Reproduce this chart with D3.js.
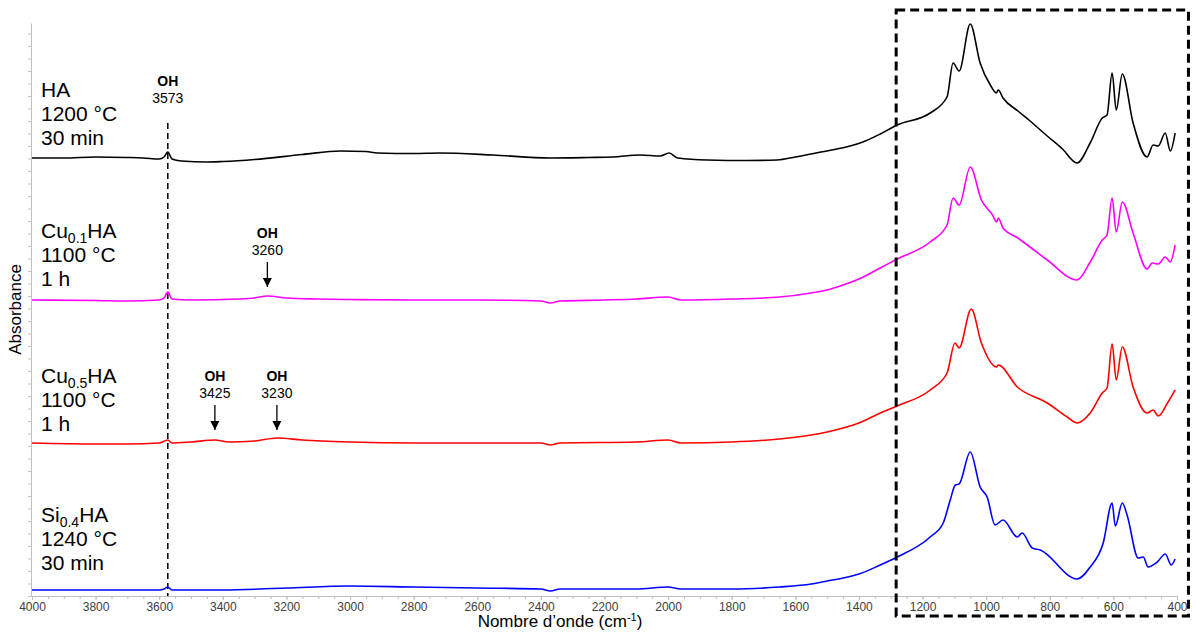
<!DOCTYPE html>
<html>
<head>
<meta charset="utf-8">
<script src="https://cdn.jsdelivr.net/npm/d3@7"></script>
<style>
  body { margin: 0; background: #fff; }
  text { font-family: "Liberation Sans", Arial, sans-serif; }
</style>
</head>
<body>
<div id="chart"></div>
<script>
// wavenumber (cm-1) and absorbance above each spectrum's own baseline (a.u.)
const haData = [
  [4000, 0.00], [3900, 0.00], [3800, 0.01], [3700, 0.005], [3650, 0.00], [3600, -0.01],
  [3585, 0.01], [3573, 0.06], [3560, -0.01], [3530, -0.03], [3450, -0.04], [3400, -0.035],
  [3300, -0.015], [3150, 0.035], [3030, 0.07], [2950, 0.065], [2915, 0.05], [2800, 0.045],
  [2720, 0.05], [2550, 0.03], [2371, 0.00], [2250, 0.005], [2173, 0.01], [2088, 0.03],
  [2025, 0.02], [1997, 0.05], [1969, 0.00], [1877, -0.02], [1750, -0.025], [1657, -0.02],
  [1600, 0.01], [1520, 0.06], [1440, 0.11], [1380, 0.17], [1333, 0.24], [1280, 0.33],
  [1176, 0.45], [1123, 0.61], [1104, 0.95], [1085, 0.87], [1050, 1.34], [1019, 0.95],
  [987, 0.73], [968, 0.65], [962, 0.68], [947, 0.60], [900, 0.47], [862, 0.37],
  [808, 0.22], [760, 0.09], [714, -0.05], [673, 0.15], [635, 0.40], [620, 0.43],
  [604, 0.85], [591, 0.48], [572, 0.84], [538, 0.35], [494, 0.01], [475, 0.13],
  [459, 0.12], [437, 0.25], [421, 0.07], [406, 0.25]
];
const cu01Data = [
  [4000, 0.00], [3800, -0.005], [3700, -0.01], [3600, 0.00], [3585, 0.02], [3573, 0.08],
  [3560, 0.01], [3500, 0.00], [3350, 0.01], [3300, 0.02], [3260, 0.04], [3200, 0.02],
  [3100, 0.01], [3000, 0.005], [2800, 0.00], [2600, 0.00], [2400, -0.01], [2370, -0.03],
  [2340, -0.01], [2200, 0.00], [2100, 0.01], [2000, 0.03], [1960, 0.00], [1800, 0.01],
  [1650, 0.03], [1550, 0.07], [1500, 0.10], [1450, 0.15], [1400, 0.21], [1333, 0.32],
  [1280, 0.41], [1176, 0.58], [1123, 0.75], [1104, 1.02], [1085, 0.95], [1050, 1.33],
  [1015, 1.00], [980, 0.85], [967, 0.78], [962, 0.82], [947, 0.72], [900, 0.62],
  [862, 0.53], [808, 0.40], [714, 0.20], [673, 0.38], [635, 0.60], [620, 0.65],
  [604, 1.02], [591, 0.68], [572, 0.98], [538, 0.67], [494, 0.31], [478, 0.37],
  [459, 0.36], [437, 0.43], [421, 0.38], [406, 0.55]
];
const cu05Data = [
  [4000, 0.00], [3800, -0.01], [3700, -0.01], [3600, 0.00], [3573, 0.03], [3560, 0.00],
  [3500, 0.01], [3425, 0.03], [3380, 0.01], [3300, 0.02], [3230, 0.05], [3150, 0.03],
  [3000, 0.01], [2800, 0.00], [2600, 0.00], [2400, 0.00], [2370, -0.02], [2340, 0.00],
  [2100, 0.01], [2000, 0.03], [1960, 0.00], [1800, 0.01], [1650, 0.04], [1550, 0.08],
  [1500, 0.11], [1450, 0.15], [1400, 0.20], [1333, 0.30], [1280, 0.37], [1176, 0.53],
  [1123, 0.70], [1098, 1.00], [1085, 0.95], [1047, 1.34], [1015, 1.00], [967, 0.76],
  [962, 0.78], [902, 0.56], [808, 0.40], [745, 0.26], [714, 0.20], [673, 0.30],
  [635, 0.50], [620, 0.55], [604, 0.99], [591, 0.63], [572, 0.96], [538, 0.56],
  [494, 0.30], [475, 0.33], [459, 0.27], [430, 0.40], [406, 0.53]
];
const si04Data = [
  [4000, 0.00], [3800, 0.00], [3600, 0.00], [3585, 0.01], [3573, 0.03], [3560, 0.00],
  [3400, 0.00], [3200, 0.02], [3000, 0.04], [2800, 0.03], [2600, 0.02], [2400, 0.01],
  [2370, -0.01], [2340, 0.01], [2100, 0.01], [2000, 0.03], [1960, 0.01], [1800, 0.01],
  [1650, 0.03], [1550, 0.06], [1500, 0.09], [1450, 0.12], [1400, 0.16], [1333, 0.25],
  [1280, 0.33], [1176, 0.53], [1135, 0.67], [1113, 0.90], [1097, 1.05], [1085, 1.06],
  [1050, 1.38], [1019, 1.03], [997, 0.93], [972, 0.65], [947, 0.70], [902, 0.53],
  [887, 0.57], [855, 0.42], [830, 0.40], [714, 0.11], [673, 0.23], [632, 0.47],
  [604, 0.87], [594, 0.64], [572, 0.87], [557, 0.75], [522, 0.32], [506, 0.33],
  [491, 0.23], [462, 0.28], [437, 0.36], [418, 0.25], [406, 0.31]
];

const seriesColors = ["#000000", "#ff00ff", "#ff0000", "#0000ff"];
const seriesOffsets = [4.38, 2.96, 1.53, 0.06];
const seriesData = [haData, cu01Data, cu05Data, si04Data];

// sample labels: [main, subscript, rest], then two lines
const sampleLabels = [
  [["HA", "", ""], "1200 °C", "30 min"],
  [["Cu", "0.1", "HA"], "1100 °C", "1 h"],
  [["Cu", "0.5", "HA"], "1100 °C", "1 h"],
  [["Si", "0.4", "HA"], "1240 °C", "30 min"]
];

// OH bands: wavenumber, series index, arrow or not
const ohBands = [
  { wn: 3573, series: 0, arrow: false },
  { wn: 3260, series: 1, arrow: true },
  { wn: 3425, series: 2, arrow: true },
  { wn: 3230, series: 2, arrow: true }
];

const xTicks = d3.range(4000, 399, -200);

const width = 1195;
const height = 634;
const margin = { top: 23, right: 18, bottom: 38, left: 32 };

const svg = d3.select("#chart")
  .append("svg")
  .attr("width", width)
  .attr("height", height);

const x = d3.scaleLinear().domain([4000, 400]).range([margin.left, width - margin.right]);
const y = d3.scaleLinear().domain([0, 5.73]).range([height - margin.bottom, margin.top]);

// x axis
const xAxis = svg.append("g")
  .attr("transform", `translate(0, ${y(0)})`)
  .call(d3.axisBottom(x).tickValues(xTicks).tickSize(4).tickPadding(2).tickFormat(d3.format("d")));
xAxis.select(".domain").attr("stroke", "#bfbfbf");
xAxis.selectAll(".tick line").attr("stroke", "#bfbfbf");
xAxis.selectAll("text").attr("font-size", 12).attr("fill", "#404040")
  .style("font-family", "'Liberation Sans', Arial, sans-serif");

// minor x ticks
svg.append("g")
  .attr("transform", `translate(0, ${y(0)})`)
  .call(d3.axisBottom(x).tickValues(d3.range(4000, 399, -50)).tickSize(3).tickFormat(""))
  .call(g => g.select(".domain").remove())
  .selectAll("line").attr("stroke", "#bfbfbf");

// y axis (no labels)
const yAxis = svg.append("g")
  .attr("transform", `translate(${margin.left - 1}, 0)`)
  .call(d3.axisLeft(y).tickValues(d3.range(0, 5.74, 0.125)).tickSize(3).tickFormat("").tickSizeOuter(0));
yAxis.select(".domain").attr("stroke", "#bfbfbf");
yAxis.selectAll(".tick line").attr("stroke", "#bfbfbf");

// axis titles
const xTitle = svg.append("text")
  .attr("x", 560)
  .attr("y", 627)
  .attr("text-anchor", "middle")
  .attr("font-size", 17)
  .attr("fill", "#000");
xTitle.append("tspan").text("Nombre d’onde (cm");
xTitle.append("tspan").attr("font-size", 11).attr("dy", -6).text("-1");
xTitle.append("tspan").attr("dy", 6).text(")");

svg.append("text")
  .attr("transform", `translate(21, ${(margin.top + y(0)) / 2}) rotate(-90)`)
  .attr("text-anchor", "middle")
  .attr("font-size", 17)
  .attr("fill", "#000")
  .text("Absorbance");

// dashed vertical line at 3573
svg.append("line")
  .attr("x1", x(3573)).attr("x2", x(3573))
  .attr("y1", y(4.73)).attr("y2", y(0))
  .attr("stroke", "#000")
  .attr("stroke-width", 1.5)
  .attr("stroke-dasharray", "6,4");

// spectra
const line = d3.line()
  .x(d => x(d[0]))
  .y(d => y(d[1]))
  .curve(d3.curveMonotoneX);

seriesData.forEach((data, i) => {
  svg.append("path")
    .datum(data.map(d => [d[0], d[1] + seriesOffsets[i]]))
    .attr("fill", "none")
    .attr("stroke", seriesColors[i])
    .attr("stroke-width", 1.6)
    .attr("d", line);
});

// sample labels
const labelTops = [97, 238, 383, 522];
sampleLabels.forEach((lab, i) => {
  const g = svg.append("g").attr("font-size", 21).attr("fill", "#000");
  const t = g.append("text").attr("x", 41).attr("y", labelTops[i]);
  t.append("tspan").text(lab[0][0]);
  if (lab[0][1]) {
    t.append("tspan").attr("font-size", 14).attr("dy", 5).text(lab[0][1]);
    t.append("tspan").attr("dy", -5).text(lab[0][2]);
  }
  g.append("text").attr("x", 41).attr("y", labelTops[i] + 24).text(lab[1]);
  g.append("text").attr("x", 41).attr("y", labelTops[i] + 48).text(lab[2]);
});

// OH annotations
svg.append("defs").append("marker")
  .attr("id", "arrow")
  .attr("viewBox", "0 0 10 10")
  .attr("refX", 10).attr("refY", 5)
  .attr("markerWidth", 7).attr("markerHeight", 7)
  .attr("orient", "auto")
  .append("path")
  .attr("d", "M0,0 L10,5 L0,10 Z")
  .attr("fill", "#000");

ohBands.forEach(b => {
  const base = seriesOffsets[b.series];
  const cx = x(b.wn);
  const ohY = b.arrow ? y(base + 0.62) : y(base + 0.72);
  svg.append("text")
    .attr("x", cx).attr("y", ohY)
    .attr("text-anchor", "middle")
    .attr("font-size", 14)
    .attr("font-weight", "bold")
    .text("OH");
  svg.append("text")
    .attr("x", cx).attr("y", ohY + 17)
    .attr("text-anchor", "middle")
    .attr("font-size", 14)
    .text(b.wn);
  if (b.arrow) {
    svg.append("line")
      .attr("x1", cx).attr("x2", cx)
      .attr("y1", ohY + 24).attr("y2", ohY + 49)
      .attr("stroke", "#000")
      .attr("stroke-width", 1.3)
      .attr("marker-end", "url(#arrow)");
  }
});

// dashed box round the fingerprint region
svg.append("rect")
  .attr("x", x(1283))
  .attr("y", 10)
  .attr("width", x(364) - x(1283))
  .attr("height", 606)
  .attr("fill", "none")
  .attr("stroke", "#000")
  .attr("stroke-width", 3)
  .attr("stroke-dasharray", "9,5");
</script>
</body>
</html>
